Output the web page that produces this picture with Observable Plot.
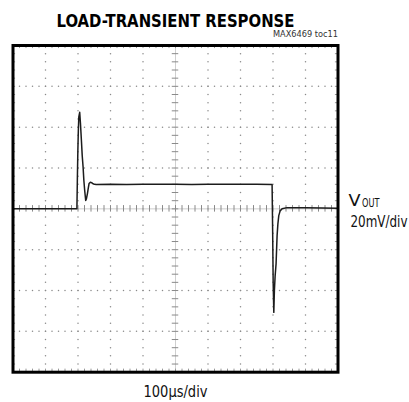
<!DOCTYPE html>
<html>
<head>
<meta charset="utf-8">
<script src="https://cdn.jsdelivr.net/npm/d3@7"></script>
<script src="https://cdn.jsdelivr.net/npm/@observablehq/plot@0.6"></script>
<style>
  html, body { margin: 0; padding: 0; background: #fff; }
  #chart { width: 409px; height: 402px; overflow: hidden; }
</style>
</head>
<body>
<div id="chart"></div>
<script>
// ---- data ----
const timeUs = [0, 100, 196.6, 198, 199.5, 201, 202.5, 205.2, 207.5, 210.5, 213, 215.7, 218, 220.6, 223.7, 226, 229, 231.5, 234, 238, 242, 246, 251, 256, 300, 350, 400, 450, 500, 550, 600, 650, 700, 750, 797.2, 799, 800.5, 802.5, 804.3, 806.5, 809.5, 812.6, 815, 817.8, 822, 828, 843, 900, 1000];
const vOutMv = [0, 0, 0, 14, 28, 38, 45, 47.3, 42, 33.5, 26, 20.4, 14, 9, 4.1, 5, 7.5, 10, 12.4, 13, 12.8, 12.3, 12, 11.9, 12.1, 11.9, 12, 12.1, 12, 11.9, 12, 12.1, 12, 12, 11.9, -12, -36, -50.7, -40, -33, -26.8, -13.1, -7.5, -3.3, -1, 0, 0.6, 0.5, 0.3];

const timeDomain = [0, 1000];   // 10 div x 100 us
const voltDomain = [-80, 80];   // 8 div x 20 mV
const timeDiv = 100, voltDiv = 20, subdiv = 5;

const titleText = "LOAD-TRANSIENT RESPONSE";
const tagText = "MAX6469 toc11";
const xLabel = "100\u00b5s/div";
const yLabelMain = "V";
const yLabelSub = "OUT";
const yLabelScale = "20mV/div";

// ---- derived ----
const data = timeUs.map((t, i) => ({t, v: vOutMv[i]}));
const majorX = d3.range(timeDomain[0], timeDomain[1] + 1, timeDiv);
const majorY = d3.range(voltDomain[0], voltDomain[1] + 1, voltDiv);
const minorX = d3.range(timeDomain[0], timeDomain[1] + 0.001, timeDiv / subdiv);
const minorY = d3.range(voltDomain[0], voltDomain[1] + 0.001, voltDiv / subdiv);
const cx = (timeDomain[0] + timeDomain[1]) / 2;
const cy = (voltDomain[0] + voltDomain[1]) / 2;
const innerX = majorX.filter(x => x !== timeDomain[0] && x !== timeDomain[1] && x !== cx);
const innerY = majorY.filter(y => y !== voltDomain[0] && y !== voltDomain[1] && y !== cy);
const gridDots = [];
innerX.forEach(x => minorY.forEach(y => gridDots.push({x, y})));
innerY.forEach(y => minorX.forEach(x => gridDots.push({x, y})));

const narrow = "'Liberation Sans Narrow', 'DejaVu Sans Condensed', 'Arial Narrow', 'Liberation Sans', sans-serif";

const chart = Plot.plot({
  width: 409,
  height: 402,
  marginLeft: 12.5,
  marginRight: 71.5,
  marginTop: 45,
  marginBottom: 30.3,
  style: {background: "white", fontFamily: narrow, overflow: "visible"},
  x: {domain: timeDomain, axis: null},
  y: {domain: voltDomain, axis: null},
  marks: [
    // dotted graticule
    Plot.dot(gridDots, {x: "x", y: "y", r: 0.75, fill: "#8a8a8a", stroke: null}),
    // center crosshair lines
    Plot.ruleX([cx], {stroke: "#cfcfcf", strokeWidth: 1}),
    Plot.ruleY([cy], {stroke: "#cfcfcf", strokeWidth: 1}),
    Plot.ruleY(minorY, {x1: cx - 10, x2: cx + 10, stroke: "#8a8a8a", strokeWidth: 1}),
    Plot.ruleX(minorX, {y1: cy - 1.6, y2: cy + 1.6, stroke: "#8a8a8a", strokeWidth: 1}),
    // edge ticks
    Plot.ruleX(minorX, {y1: voltDomain[0], y2: voltDomain[0] + 1.5, stroke: "#999"}),
    Plot.ruleX(minorX, {y1: voltDomain[1] - 1.5, y2: voltDomain[1], stroke: "#999"}),
    Plot.ruleY(minorY, {x1: timeDomain[0], x2: timeDomain[0] + 8, stroke: "#999"}),
    Plot.ruleY(minorY, {x1: timeDomain[1] - 8, x2: timeDomain[1], stroke: "#999"}),
    // trace
    Plot.line(data, {x: "t", y: "v", stroke: "#1c1c1c", strokeWidth: 1.5, strokeLinejoin: "round"}),
    // frame
    Plot.frame({stroke: "#000", strokeWidth: 3}),
    // texts
    Plot.text([titleText], {text: d => d, frameAnchor: "top", textAnchor: "middle", lineAnchor: "bottom", dy: -18.5, fontSize: 18.5, fontWeight: 900, fill: "#000"}),
    Plot.text([tagText], {text: d => d, frameAnchor: "top-right", textAnchor: "end", lineAnchor: "bottom", dy: -8.5, dx: 0, fontSize: 9, fill: "#333"}),
    Plot.text([xLabel], {text: d => d, frameAnchor: "bottom", textAnchor: "middle", lineAnchor: "bottom", dy: 25, fontSize: 15.5, fill: "#111"}),
    Plot.text([yLabelMain], {text: d => d, frameAnchor: "right", textAnchor: "start", lineAnchor: "bottom", dx: 10.5, dy: -3, fontSize: 16, fill: "#111"}),
    Plot.text([yLabelSub], {text: d => d, frameAnchor: "right", textAnchor: "start", lineAnchor: "bottom", dx: 24, dy: -1.8, fontSize: 11.5, fill: "#111"}),
    Plot.text([yLabelScale], {text: d => d, frameAnchor: "right", textAnchor: "start", lineAnchor: "bottom", dx: 12.5, dy: 18, fontSize: 15.5, fill: "#111"})
  ]
});

// squeeze texts to the condensed widths of the original
const widths = new Map([[titleText, 238], [tagText, 65], [xLabel, 64], [yLabelMain, 12], [yLabelSub, 17.5], [yLabelScale, 57]]);
d3.select(chart).selectAll("text").each(function() {
  const w = widths.get(this.textContent);
  if (w) d3.select(this).attr("textLength", w).attr("lengthAdjust", "spacingAndGlyphs");
});

document.getElementById("chart").appendChild(chart);
</script>
</body>
</html>
